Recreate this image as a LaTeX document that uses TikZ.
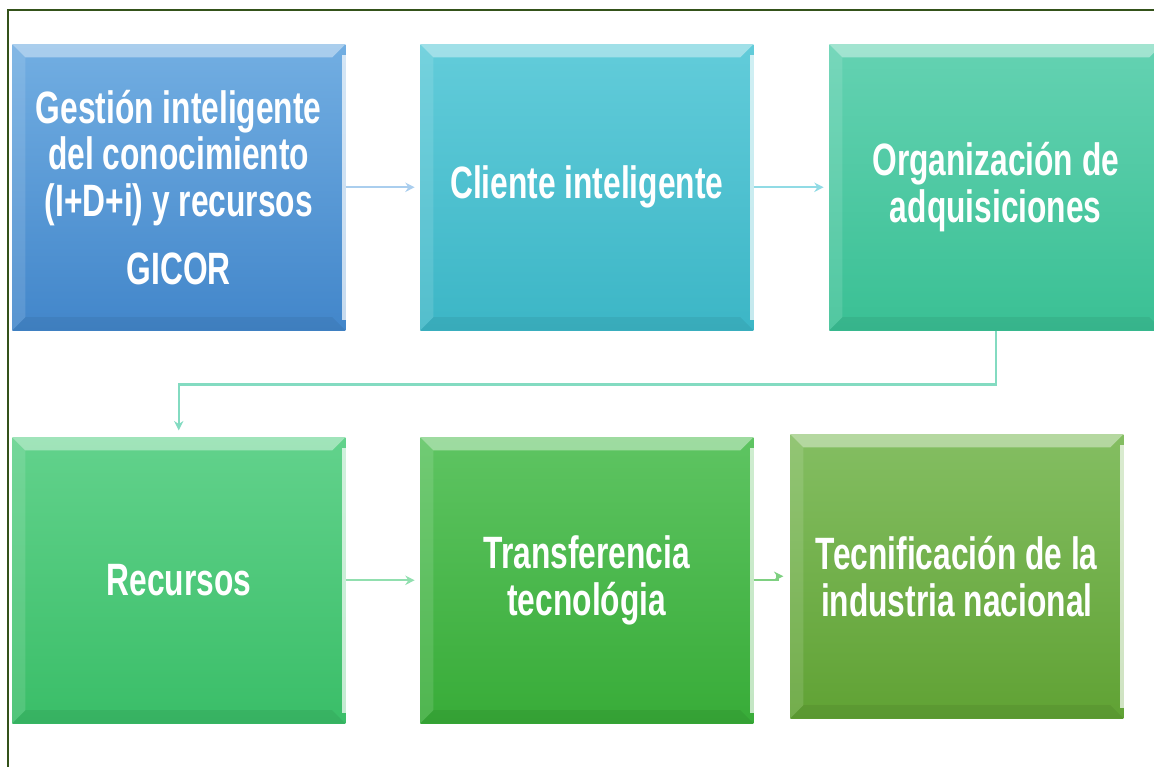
\documentclass[tikz,border=0pt]{standalone}
\usepackage{fontspec}
\setmainfont{Liberation Sans}[FakeStretch=0.70]
\usetikzlibrary{arrows.meta}

\definecolor{marco}{HTML}{34521A}
\definecolor{azulA}{HTML}{72AEE2}
\definecolor{azulB}{HTML}{4286CA}
\definecolor{cianA}{HTML}{62CCDA}
\definecolor{cianB}{HTML}{3CB6C6}
\definecolor{aguaA}{HTML}{64D2B2}
\definecolor{aguaB}{HTML}{3AC094}
\definecolor{verdeA}{HTML}{62D28C}
\definecolor{verdeB}{HTML}{3ABE68}
\definecolor{pastoA}{HTML}{5EC462}
\definecolor{pastoB}{HTML}{38AC38}
\definecolor{olivoA}{HTML}{84BE62}
\definecolor{olivoB}{HTML}{60A234}

\tikzset{
  paso/.style={anchor=north west, minimum width=249.75pt, minimum height=214.5pt,
    inner sep=0pt, align=center, text=white,
    font=\fontsize{34}{35}\selectfont\bfseries},
  flecha/.style={line width=1.8pt, -{Stealth[length=7pt,width=7pt]}}
}

% bevel look of each box
\newcommand{\bisel}[1]{
  \fill[white,opacity=0.4] (#1.north west) -- (#1.north east) -- ([xshift=-10pt,yshift=-10pt]#1.north east) -- ([xshift=10pt,yshift=-10pt]#1.north west) -- cycle;
  \fill[white,opacity=0.12] (#1.north west) -- ([xshift=10pt,yshift=-10pt]#1.north west) -- ([xshift=10pt,yshift=10pt]#1.south west) -- (#1.south west) -- cycle;
  \fill[black,opacity=0.06] (#1.south west) -- (#1.south east) -- ([xshift=-10pt,yshift=10pt]#1.south east) -- ([xshift=10pt,yshift=10pt]#1.south west) -- cycle;
  \fill[white,opacity=0.7] ([xshift=-3pt,yshift=-8pt]#1.north east) rectangle ([yshift=8pt]#1.south east);
}

\begin{document}
\begin{tikzpicture}[x=0.75pt,y=-0.75pt]

        \useasboundingbox (0,0) rectangle (1154,767);

        %Frame
        \draw[marco, line width=1.6pt] (8,767) -- (8,10) -- (1154,10);

        %First row
        \node[paso, top color=azulA, bottom color=azulB] (gest) at (12,44) {Gestión inteligente\\del conocimiento\\(I+D+i) y recursos\\[16pt]GICOR};
        \node[paso, top color=cianA, bottom color=cianB] (cli) at (420,44) {Cliente inteligente};
        \node[paso, top color=aguaA, bottom color=aguaB] (org) at (829,44) {Organización de\\adquisiciones};

        %Second row
        \node[paso, top color=verdeA, bottom color=verdeB] (rec) at (12,437) {Recursos};
        \node[paso, top color=pastoA, bottom color=pastoB] (trans) at (420,437) {Transferencia\\tecnológia};
        \node[paso, top color=olivoA, bottom color=olivoB, minimum height=213pt] (tec) at (790,434) {Tecnificación de la\\industria nacional};

        \bisel{gest} \bisel{cli} \bisel{org}
        \bisel{rec} \bisel{trans} \bisel{tec}

        %Arrows between the boxes
        \draw[flecha, color=azulA!60] (gest.east) -- ([xshift=-4pt]cli.west);
        \draw[flecha, color=cianA!70] (cli.east) -- ([xshift=-4pt]org.west);
        \draw[flecha, color=aguaA!80] (org.south) -- ++(0,54) -| ([yshift=5pt]rec.north);
        \draw[flecha, color=verdeA!70] (rec.east) -- ([xshift=-4pt]trans.west);
        \draw[flecha, color=pastoA!80] (trans.east) -- ++(24,0) |- ([xshift=-5pt]tec.west);

\end{tikzpicture}
\end{document}
